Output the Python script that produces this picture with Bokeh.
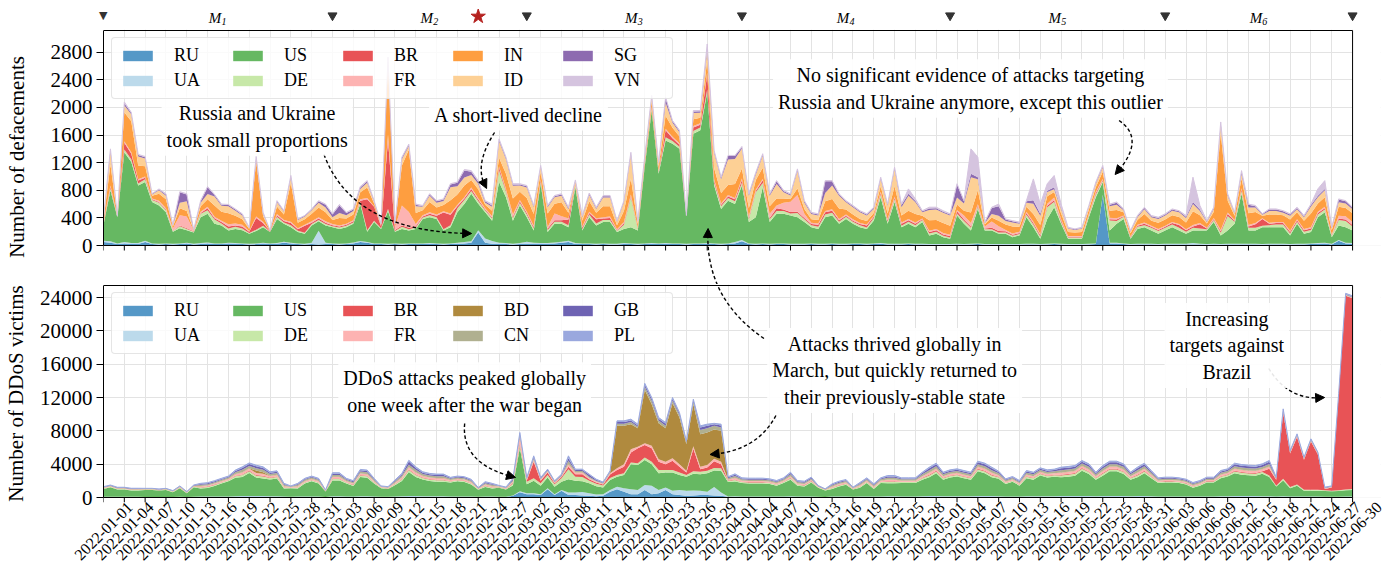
import math
import numpy as np
import pandas as pd
from bokeh.plotting import figure
from bokeh.layouts import column
from bokeh.models import (ColumnDataSource, Range1d, FixedTicker, Legend, LegendItem,
                          Label, Arrow, NormalHead, LinearAxis)
from bokeh.core.properties import value
from bokeh.embed import file_html
from bokeh.resources import INLINE

# ---------------------------------------------------------------- data
dates = pd.date_range("2022-01-01", "2022-06-30", freq="D").strftime("%Y-%m-%d").tolist()
day_idx = list(range(len(dates)))

def_names = ["RU", "UA", "US", "DE", "BR", "FR", "IN", "ID", "SG", "VN"]
def_colors = ["#5598c7", "#bcdaeb", "#66b862", "#c7e8a8", "#e85356",
              "#fdb3b2", "#fe9e40", "#fdd095", "#8d6bb0", "#d5c4df"]

def_ru = [50, 40, 20, 30, 20, 20, 50, 20, 15, 20,
          15, 20, 30, 15, 20, 30, 20, 20, 30, 25,
          20, 15, 20, 30, 20, 25, 40, 30, 20, 15,
          20, 15, 20, 20, 15, 20, 30, 50, 40, 20,
          20, 15, 20, 15, 20, 20, 20, 25, 20, 15,
          20, 25, 30, 40, 190, 40, 25, 20, 20, 15,
          20, 25, 20, 20, 25, 30, 40, 50, 20, 20,
          20, 15, 20, 15, 15, 20, 20, 15, 20, 25,
          20, 25, 20, 20, 15, 20, 20, 25, 20, 15,
          20, 30, 60, 20, 15, 20, 15, 20, 20, 15,
          15, 15, 20, 15, 15, 20, 15, 15, 20, 20,
          15, 20, 25, 15, 15, 15, 20, 15, 15, 10,
          10, 10, 10, 15, 10, 15, 20, 10, 10, 10,
          10, 10, 10, 15, 15, 10, 15, 20, 15, 10,
          10, 10, 15, 20, 725, 30, 30, 20, 10, 15,
          15, 15, 10, 15, 15, 15, 15, 15, 15, 10,
          15, 10, 15, 15, 15, 15, 15, 10, 15, 15,
          15, 10, 15, 15, 20, 25, 30, 15, 70, 30,
          25]
def_ua = [20, 20, 10, 20, 15, 15, 20, 10, 10, 10,
          10, 10, 10, 10, 15, 15, 10, 10, 10, 10,
          10, 10, 10, 10, 10, 10, 15, 10, 10, 10,
          20, 200, 20, 10, 10, 10, 15, 15, 10, 10,
          10, 10, 10, 10, 10, 10, 10, 10, 10, 10,
          10, 15, 20, 20, 30, 60, 40, 20, 15, 10,
          15, 30, 20, 15, 10, 15, 15, 20, 15, 10,
          10, 10, 10, 10, 10, 15, 10, 10, 10, 10,
          10, 10, 10, 10, 10, 10, 10, 10, 10, 10,
          10, 20, 20, 10, 10, 10, 10, 10, 10, 10,
          10, 10, 10, 10, 10, 10, 10, 10, 10, 10,
          10, 10, 10, 10, 10, 10, 10, 10, 10, 10,
          10, 10, 10, 10, 10, 10, 10, 10, 10, 10,
          10, 10, 10, 10, 10, 10, 10, 10, 10, 10,
          10, 10, 10, 10, 10, 10, 10, 10, 10, 10,
          10, 10, 10, 10, 10, 10, 10, 20, 10, 10,
          10, 10, 10, 10, 10, 10, 10, 10, 10, 10,
          10, 10, 10, 10, 10, 10, 10, 10, 10, 10,
          10]
def_us = [230, 740, 380, 1300, 1175, 835, 850, 600, 555, 450,
          175, 220, 180, 165, 375, 415, 285, 260, 177, 205,
          190, 145, 180, 225, 165, 350, 260, 225, 165, 145,
          250, 135, 250, 235, 215, 235, 270, 535, 150, 310,
          210, 475, 170, 215, 187, 210, 355, 375, 355, 192,
          235, 440, 550, 690, 385, 380, 295, 880, 665, 335,
          545, 355, 177, 860, 160, 270, 260, 195, 810, 187,
          380, 265, 310, 315, 170, 205, 235, 192, 1120, 1920,
          1010, 1485, 1445, 1370, 395, 1590, 1640, 2185, 840, 505,
          620, 550, 790, 310, 385, 815, 315, 430, 430, 410,
          385, 315, 235, 215, 385, 405, 290, 360, 285, 235,
          215, 330, 665, 290, 605, 240, 285, 240, 315, 125,
          150, 100, 77, 410, 295, 192, 500, 197, 197, 150,
          150, 100, 125, 385, 240, 77, 360, 525, 290, 77,
          77, 77, 385, 670, 183, 177, 275, 355, 77, 215,
          240, 192, 150, 192, 240, 192, 145, 182, 192, 197,
          315, 125, 192, 290, 725, 192, 192, 245, 240, 240,
          240, 125, 290, 145, 165, 375, 440, 95, 210, 225,
          182]
def_de = [15, 30, 5, 40, 40, 30, 40, 30, 40, 30,
          10, 30, 20, 10, 50, 50, 60, 30, 30, 30,
          25, 10, 20, 20, 5, 30, 20, 30, 20, 15,
          20, 20, 20, 15, 20, 20, 20, 30, 20, 20,
          10, 30, 10, 30, 20, 20, 20, 30, 25, 20,
          30, 60, 60, 40, 40, 30, 30, 170, 80, 40,
          40, 40, 30, 30, 30, 30, 30, 30, 30, 20,
          40, 30, 30, 30, 20, 60, 435, 20, 20, 30,
          20, 50, 40, 30, 5, 40, 40, 40, 40, 40,
          40, 40, 40, 40, 360, 60, 40, 40, 40, 30,
          60, 40, 30, 30, 40, 40, 30, 30, 30, 30,
          20, 40, 40, 30, 40, 20, 30, 30, 30, 30,
          30, 20, 20, 30, 40, 40, 30, 20, 20, 20,
          20, 20, 20, 40, 40, 30, 170, 80, 30, 20,
          20, 20, 30, 40, 20, 145, 40, 30, 15, 30,
          30, 40, 40, 40, 40, 40, 30, 40, 30, 20,
          30, 40, 210, 30, 40, 40, 40, 20, 30, 40,
          40, 30, 30, 30, 30, 40, 40, 20, 80, 90,
          60]
def_br = [10, 20, 0, 100, 80, 40, 20, 10, 10, 10,
          5, 10, 10, 5, 10, 30, 20, 20, 30, 20,
          30, 20, 170, 40, 5, 20, 20, 30, 20, 100,
          20, 20, 20, 15, 15, 15, 15, 20, 450, 200,
          30, 1000, 15, 20, 20, 20, 15, 20, 20, 240,
          150, 30, 20, 30, 20, 15, 15, 40, 20, 20,
          20, 20, 20, 20, 20, 20, 20, 80, 10, 20,
          20, 60, 20, 30, 10, 20, 20, 10, 10, 20,
          10, 100, 40, 30, 0, 50, 40, 220, 30, 20,
          20, 30, 40, 20, 20, 40, 20, 40, 20, 20,
          20, 20, 15, 30, 30, 30, 20, 15, 15, 15,
          30, 15, 20, 20, 20, 30, 20, 20, 10, 20,
          20, 20, 20, 30, 20, 20, 20, 10, 20, 20,
          15, 15, 15, 20, 20, 20, 20, 20, 20, 10,
          10, 10, 10, 20, 10, 20, 20, 10, 10, 15,
          20, 15, 15, 15, 20, 40, 20, 20, 60, 10,
          15, 20, 30, 15, 20, 20, 50, 100, 20, 20,
          20, 20, 20, 20, 20, 20, 20, 10, 20, 20,
          20]
def_fr = [10, 20, 5, 20, 20, 20, 20, 10, 20, 20,
          30, 150, 170, 10, 20, 20, 20, 20, 30, 30,
          25, 10, 20, 20, 5, 20, 15, 20, 15, 15,
          20, 20, 20, 15, 15, 15, 15, 20, 20, 10,
          10, 80, 40, 290, 230, 30, 20, 20, 20, 20,
          20, 20, 20, 20, 20, 15, 20, 20, 20, 30,
          20, 20, 20, 15, 20, 100, 60, 20, 10, 20,
          20, 15, 20, 20, 10, 20, 20, 10, 10, 10,
          10, 20, 20, 20, 0, 20, 20, 30, 20, 20,
          20, 20, 20, 20, 20, 20, 60, 40, 100, 150,
          240, 60, 20, 20, 20, 20, 20, 20, 20, 15,
          15, 15, 20, 20, 20, 20, 20, 20, 10, 20,
          20, 20, 20, 20, 60, 50, 20, 30, 90, 70,
          20, 20, 20, 20, 20, 20, 30, 40, 20, 10,
          10, 10, 10, 20, 20, 20, 20, 10, 10, 15,
          20, 15, 15, 15, 15, 15, 15, 20, 20, 10,
          15, 20, 20, 10, 20, 20, 20, 10, 15, 15,
          15, 20, 15, 20, 20, 20, 20, 10, 40, 50,
          40]
def_in = [35, 300, 10, 420, 450, 200, 150, 40, 100, 130,
          30, 100, 80, 10, 80, 110, 165, 130, 160, 110,
          80, 30, 800, 80, 10, 110, 80, 560, 80, 80,
          110, 140, 130, 60, 110, 75, 85, 100, 150, 40,
          15, 1050, 30, 580, 900, 160, 70, 150, 100, 90,
          190, 150, 170, 110, 130, 50, 80, 120, 220, 230,
          120, 200, 170, 100, 200, 140, 200, 80, 20, 80,
          150, 80, 160, 150, 60, 160, 230, 50, 50, 80,
          60, 190, 130, 100, 5, 100, 80, 170, 160, 150,
          145, 200, 145, 120, 140, 160, 110, 100, 60, 40,
          100, 70, 50, 50, 140, 150, 150, 70, 70, 60,
          50, 40, 80, 80, 150, 100, 120, 120, 40, 150,
          130, 145, 130, 80, 70, 150, 200, 30, 60, 80,
          80, 100, 70, 70, 110, 130, 110, 80, 80, 60,
          50, 60, 60, 65, 100, 100, 120, 45, 45, 70,
          120, 70, 90, 90, 100, 100, 100, 200, 110, 60,
          90, 1400, 170, 60, 140, 170, 160, 35, 120, 110,
          100, 160, 100, 120, 200, 120, 140, 60, 130, 120,
          130]
def_id = [20, 200, 0, 100, 100, 130, 110, 20, 50, 50,
          20, 80, 140, 0, 50, 75, 130, 85, 103, 75,
          55, 10, 40, 35, 0, 60, 40, 80, 40, 40,
          50, 70, 70, 40, 70, 50, 50, 50, 70, 25,
          5, 50, 10, 90, 53, 100, 50, 90, 70, 58,
          190, 120, 115, 70, 80, 30, 55, 240, 210, 185,
          90, 150, 98, 80, 90, 95, 95, 50, 20, 53,
          90, 55, 125, 125, 50, 125, 350, 38, 40, 60,
          40, 190, 75, 60, 5, 90, 75, 150, 225, 200,
          370, 365, 290, 180, 80, 175, 150, 210, 90, 50,
          250, 90, 75, 65, 120, 195, 185, 105, 105, 95,
          80, 60, 105, 110, 250, 120, 215, 170, 50, 150,
          150, 150, 148, 100, 105, 513, 160, 18, 48, 70,
          50, 60, 45, 60, 150, 133, 60, 40, 60, 48,
          38, 48, 40, 50, 62, 68, 75, 30, 25, 40,
          70, 53, 55, 58, 65, 68, 65, 103, 63, 23,
          40, 125, 73, 30, 65, 83, 63, 15, 50, 50,
          35, 55, 45, 50, 100, 90, 100, 30, 65, 65,
          58]
def_sg = [5, 20, 0, 30, 20, 20, 20, 10, 10, 20,
          5, 150, 100, 5, 20, 100, 20, 15, 15, 15,
          15, 5, 20, 10, 0, 15, 10, 20, 10, 10,
          10, 20, 40, 40, 110, 30, 20, 20, 20, 10,
          5, 10, 5, 20, 20, 20, 10, 20, 20, 20,
          40, 50, 100, 50, 30, 20, 20, 20, 20, 20,
          15, 20, 15, 10, 15, 15, 20, 20, 10, 15,
          20, 15, 20, 20, 10, 15, 20, 10, 10, 10,
          10, 70, 20, 20, 0, 20, 20, 40, 20, 20,
          50, 40, 20, 20, 20, 20, 20, 40, 20, 15,
          20, 20, 15, 15, 170, 60, 20, 15, 15, 15,
          15, 15, 15, 15, 15, 30, 30, 20, 15, 20,
          20, 15, 15, 190, 30, 50, 30, 10, 90, 140,
          20, 15, 15, 20, 50, 30, 20, 30, 15, 10,
          10, 10, 10, 15, 15, 20, 30, 15, 10, 15,
          20, 15, 15, 15, 15, 15, 15, 30, 20, 10,
          15, 20, 20, 10, 30, 40, 20, 10, 20, 20,
          20, 20, 20, 15, 20, 20, 20, 10, 40, 30,
          20]
def_vn = [5, 10, 0, 20, 10, 10, 10, 0, 10, 10,
          0, 10, 10, 0, 10, 10, 10, 10, 10, 10,
          10, 5, 10, 10, 0, 10, 5, 10, 5, 5,
          10, 10, 10, 10, 15, 10, 10, 15, 10, 5,
          0, 10, 5, 10, 10, 10, 10, 10, 10, 10,
          10, 10, 15, 15, 15, 10, 20, 15, 10, 10,
          10, 10, 10, 10, 10, 10, 10, 10, 5, 10,
          10, 10, 10, 10, 5, 10, 10, 5, 10, 10,
          10, 10, 10, 10, 0, 15, 10, 50, 10, 10,
          10, 10, 10, 10, 10, 10, 10, 10, 10, 10,
          10, 10, 10, 10, 10, 10, 10, 10, 10, 10,
          10, 10, 10, 10, 10, 15, 70, 30, 10, 20,
          15, 15, 10, 10, 10, 360, 290, 5, 10, 30,
          10, 10, 10, 10, 310, 140, 100, 170, 60, 10,
          5, 10, 10, 10, 15, 10, 10, 5, 5, 10,
          10, 10, 10, 10, 10, 10, 20, 360, 60, 10,
          10, 20, 10, 10, 20, 10, 10, 5, 10, 10,
          10, 10, 10, 10, 15, 100, 120, 5, 10, 10,
          10]

ddos_names = ["RU", "UA", "US", "DE", "BR", "FR", "BD", "CN", "GB", "PL"]
ddos_colors = ["#5598c7", "#bcdaeb", "#66b862", "#c7e8a8", "#e85356",
               "#fdb3b2", "#b08a3e", "#b0b090", "#6e63b3", "#9aa8de"]

ddos_ru = [50, 50, 50, 50, 50, 50, 40, 40, 40, 40,
           40, 50, 40, 50, 80, 80, 80, 80, 80, 100,
           120, 120, 120, 120, 100, 100, 80, 50, 80, 80,
           80, 80, 40, 100, 100, 80, 80, 100, 100, 80,
           50, 50, 80, 100, 120, 120, 100, 100, 100, 100,
           80, 80, 80, 80, 50, 80, 80, 50, 50,
           200, 640, 400, 400, 300, 1000, 300, 800, 300, 300,
           250, 200, 150, 200, 700, 1000, 700, 400, 400, 900,
           400, 500, 900, 400, 300, 200, 250, 300, 300, 250,
           200,
           80, 100, 80, 80, 80, 80, 80, 80, 80, 100,
           80, 80, 80, 50, 40, 80, 80, 80, 50, 80,
           80, 80, 80, 100, 100, 80, 80, 80, 100, 120,
           120, 100, 100, 100, 100, 100, 120, 120, 120, 100,
           80, 80, 80, 100, 100, 100, 100, 100, 120, 120,
           120, 120, 120, 100, 120, 120, 120, 120, 100, 120,
           120, 100, 80, 80, 80, 80, 80, 80, 80, 80,
           80, 100, 100, 120, 120, 120, 120,
           100, 100, 80, 100, 80, 80, 80, 80, 80, 60, 60, 60, 80, 80]
ddos_ua = [30, 30, 30, 30, 30, 30, 20, 20, 20, 20,
           20, 30, 20, 30, 40, 40, 40, 40, 40, 50,
           60, 60, 60, 60, 50, 50, 40, 30, 40, 40,
           40, 40, 20, 50, 50, 40, 40, 50, 50, 40,
           30, 30, 40, 50, 60, 60, 50, 50, 50, 50,
           40, 40, 40, 40, 30, 40, 40, 30, 30,
           50, 100, 100, 100, 100, 100, 100, 100, 300, 300,
           400, 300, 200, 200, 200, 300, 400, 600, 500, 600,
           1000, 400, 300, 400, 600, 600, 600, 500, 400, 1000,
           400,
           40, 50, 40, 40, 40, 40, 40, 40, 40, 50,
           40, 40, 40, 30, 20, 40, 40, 40, 30, 40,
           40, 40, 40, 50, 50, 40, 40, 40, 50, 60,
           60, 50, 50, 50, 50, 50, 60, 60, 60, 50,
           40, 40, 40, 50, 50, 50, 50, 50, 60, 60,
           60, 60, 60, 50, 60, 60, 60, 60, 50, 60,
           60, 50, 40, 40, 40, 40, 40, 40, 40, 40,
           40, 50, 50, 60, 60, 60, 60,
           50, 50, 40, 50, 40, 40, 40, 40, 40, 30, 30, 30, 30, 30]
ddos_us = [940, 1140, 870, 870, 750, 750, 850, 850, 780, 850,
           580, 1030, 460, 1140, 955, 1035, 1275, 1555, 1825, 2220,
           2280, 2750, 2210, 2110, 2020, 2130, 955, 1030, 955, 1555,
           1825, 1555, 660, 1900, 1900, 1555, 1275, 2300, 2220, 1555,
           1030, 940, 1355, 1820, 2890, 2280, 2020, 1820, 1740, 1740,
           1675, 1825, 1755, 1435, 840, 1155, 955, 1090, 890,
           1200, 5200, 1100, 1500, 1000, 1300, 900, 1000, 1600, 1400,
           1300, 1200, 1000, 800, 1200, 1200, 1600, 3000, 3000, 3000,
           2600, 2000, 1800, 2200, 1800, 1700, 2000, 2000, 2200, 2000,
           2600,
           1755, 1770, 1615, 1575, 1575, 1575, 1495, 1295, 1615, 1970,
           1295, 1215, 1695, 1080, 790, 895, 1215, 1415, 880, 1055,
           1615, 895, 1615, 1570, 1570, 1615, 1615, 1615, 1970, 2240,
           2720, 1970, 2250, 2370, 2170, 1970, 2960, 2720, 2240, 2090,
           1495, 1775, 1295, 2170, 1970, 2490, 2250, 2330, 2240, 2320,
           2440, 3040, 2640, 1970, 2440, 2960, 2960, 2640, 1970, 2240,
           2720, 2170, 1615, 1695, 1695, 1615, 1455, 1055, 1295, 1695,
           1695, 2170, 2370, 2720, 2560, 2480, 2440,
           2700, 2300, 1200, 1900, 1000, 1300, 700, 700, 700, 700, 650, 700, 750, 800]
ddos_de = [60, 60, 60, 60, 60, 60, 40, 40, 40, 40,
           40, 60, 40, 60, 120, 120, 120, 120, 120, 180,
           230, 230, 230, 230, 180, 180, 120, 60, 120, 120,
           120, 120, 40, 180, 180, 120, 120, 180, 180, 120,
           60, 60, 120, 180, 230, 230, 180, 180, 180, 180,
           120, 120, 120, 120, 60, 120, 120, 60, 60,
           200, 300, 300, 300, 300, 300, 300, 400, 1200, 500,
           500, 300, 300, 250, 250, 200, 200, 200, 200, 300,
           300, 400, 300, 300, 300, 200, 300, 300, 300, 300,
           300,
           120, 180, 120, 120, 120, 120, 120, 120, 120, 180,
           120, 120, 120, 60, 40, 120, 120, 120, 60, 120,
           120, 120, 120, 180, 180, 120, 120, 120, 180, 230,
           230, 180, 180, 180, 180, 180, 230, 230, 230, 180,
           120, 120, 120, 180, 180, 180, 180, 180, 230, 230,
           230, 230, 230, 180, 230, 230, 230, 230, 180, 230,
           230, 180, 120, 120, 120, 120, 120, 120, 120, 120,
           120, 180, 180, 230, 230, 230, 230,
           200, 200, 100, 200, 150, 150, 100, 100, 100, 80, 80, 80, 100, 100]
ddos_br = [20, 20, 20, 20, 20, 20, 15, 15, 15, 15,
           15, 20, 15, 20, 40, 40, 40, 40, 40, 60,
           80, 80, 80, 80, 60, 60, 40, 20, 40, 40,
           40, 40, 15, 60, 60, 40, 40, 60, 60, 40,
           20, 20, 40, 60, 80, 80, 60, 60, 60, 60,
           40, 40, 40, 40, 20, 40, 40, 20, 20,
           100, 200, 150, 2000, 300, 300, 100, 150, 300, 300,
           350, 200, 150, 100, 400, 600, 800, 1200, 1800, 1500,
           1600, 1000, 700, 1100, 700, 300, 2700, 300, 400, 800,
           500,
           40, 60, 40, 40, 40, 40, 40, 40, 40, 60,
           40, 40, 40, 20, 15, 40, 40, 40, 20, 40,
           40, 40, 40, 60, 60, 40, 40, 40, 60, 80,
           80, 60, 60, 60, 60, 60, 80, 80, 80, 60,
           40, 40, 40, 60, 60, 60, 60, 60, 80, 80,
           80, 80, 80, 60, 80, 80, 80, 80, 60, 80,
           80, 60, 40, 40, 40, 40, 40, 40, 40, 40,
           40, 60, 60, 80, 80, 80, 80,
           100, 800, 700, 7900, 4000, 5700, 3600, 5800, 4250, 150, 380, 11450, 23240, 22890]
ddos_fr = [60, 60, 60, 60, 60, 60, 40, 40, 40, 40,
           40, 60, 40, 60, 120, 120, 120, 120, 120, 180,
           240, 240, 240, 240, 180, 180, 120, 60, 120, 120,
           120, 120, 40, 180, 180, 120, 120, 180, 180, 120,
           60, 60, 120, 180, 240, 240, 180, 180, 180, 180,
           120, 120, 120, 120, 60, 120, 120, 60, 60,
           150, 800, 100, 200, 150, 150, 100, 100, 300, 200,
           200, 150, 120, 100, 150, 200, 300, 400, 200, 200,
           300, 300, 300, 300, 300, 200, 300, 300, 300, 300,
           300,
           120, 180, 120, 120, 120, 120, 120, 120, 120, 180,
           120, 120, 120, 60, 40, 120, 120, 120, 60, 120,
           120, 120, 120, 180, 180, 120, 120, 120, 180, 240,
           240, 180, 180, 180, 180, 180, 240, 240, 240, 180,
           120, 120, 120, 180, 180, 180, 180, 180, 240, 240,
           240, 240, 240, 180, 240, 240, 240, 240, 180, 240,
           240, 180, 120, 120, 120, 120, 120, 120, 120, 120,
           120, 180, 180, 240, 240, 240, 240,
           250, 250, 80, 150, 120, 120, 100, 100, 90, 60, 60, 60, 80, 80]
ddos_bd = [10, 10, 10, 10, 10, 10, 5, 5, 5, 5,
           5, 10, 5, 10, 15, 15, 15, 15, 15, 20,
           30, 30, 300, 200, 20, 20, 15, 10, 15, 15,
           15, 15, 5, 20, 20, 15, 15, 20, 20, 15,
           10, 10, 15, 20, 30, 30, 20, 20, 20, 20,
           15, 15, 15, 15, 10, 15, 15, 10, 10,
           0, 50, 0, 20, 0, 0, 0, 0, 50, 20,
           20, 0, 0, 0, 50, 5100, 4600, 3000, 2200, 6400,
           5000, 4300, 4000, 6600, 5600, 3200, 5050, 3900, 3900, 3500,
           3700,
           15, 20, 15, 15, 15, 15, 15, 15, 15, 20,
           15, 15, 15, 10, 5, 15, 15, 15, 10, 15,
           15, 15, 15, 20, 20, 15, 15, 15, 20, 30,
           30, 20, 20, 20, 20, 20, 30, 30, 30, 20,
           15, 15, 15, 20, 20, 20, 20, 20, 30, 30,
           30, 30, 30, 20, 30, 30, 30, 30, 20, 30,
           30, 20, 15, 15, 15, 15, 15, 15, 15, 15,
           15, 20, 20, 30, 30, 30, 30,
           20, 20, 0, 0, 0, 0, 0, 0, 0, 0, 0, 0, 0, 0]
ddos_cn = [50, 50, 50, 50, 50, 50, 30, 30, 30, 30,
           30, 50, 30, 50, 150, 150, 150, 150, 150, 220,
           280, 280, 280, 280, 220, 220, 150, 50, 150, 150,
           150, 150, 30, 220, 220, 150, 150, 220, 220, 150,
           50, 50, 150, 220, 280, 280, 220, 220, 220, 220,
           150, 150, 150, 150, 50, 150, 150, 50, 50,
           150, 200, 100, 180, 100, 100, 80, 100, 350, 150,
           150, 130, 100, 80, 100, 250, 250, 250, 200, 400,
           400, 350, 300, 350, 300, 200, 300, 500, 500, 450,
           400,
           150, 220, 150, 150, 150, 150, 150, 150, 150, 220,
           150, 150, 150, 50, 30, 150, 150, 150, 50, 150,
           150, 150, 150, 220, 220, 150, 150, 150, 220, 280,
           280, 220, 220, 220, 220, 220, 280, 280, 280, 220,
           150, 150, 150, 220, 220, 220, 220, 220, 280, 280,
           280, 280, 280, 220, 280, 280, 280, 280, 220, 280,
           280, 220, 150, 150, 150, 150, 150, 150, 150, 150,
           150, 220, 220, 280, 280, 280, 280,
           250, 300, 100, 150, 100, 100, 90, 100, 80, 60, 60, 50, 80, 80]
ddos_gb = [40, 40, 40, 40, 40, 40, 30, 30, 30, 30,
           30, 40, 30, 40, 100, 100, 100, 100, 100, 150,
           220, 220, 220, 220, 150, 150, 100, 40, 100, 100,
           100, 100, 30, 150, 150, 100, 100, 150, 150, 100,
           40, 40, 100, 150, 400, 220, 150, 150, 150, 150,
           100, 100, 100, 100, 40, 100, 100, 40, 40,
           150, 150, 80, 150, 80, 80, 60, 80, 300, 130,
           130, 250, 120, 70, 80, 200, 200, 200, 150, 250,
           250, 200, 250, 200, 200, 100, 200, 300, 300, 200,
           250,
           100, 150, 100, 100, 100, 100, 100, 100, 100, 150,
           100, 100, 100, 40, 30, 100, 100, 100, 40, 100,
           100, 100, 100, 150, 150, 100, 100, 100, 150, 220,
           220, 150, 150, 150, 150, 150, 220, 220, 220, 150,
           100, 100, 100, 150, 150, 150, 150, 150, 220, 220,
           220, 220, 220, 150, 220, 220, 220, 220, 150, 220,
           220, 150, 100, 100, 100, 100, 100, 100, 100, 100,
           100, 150, 150, 220, 220, 220, 220,
           220, 270, 80, 100, 80, 80, 70, 70, 60, 50, 40, 40, 70, 70]
ddos_pl = [40, 40, 40, 40, 40, 40, 30, 30, 30, 30,
           30, 40, 30, 40, 80, 80, 80, 80, 80, 110,
           140, 140, 140, 140, 110, 110, 80, 40, 80, 80,
           80, 80, 30, 110, 110, 80, 80, 110, 110, 80,
           40, 40, 80, 110, 140, 140, 110, 110, 110, 110,
           80, 80, 80, 80, 40, 80, 80, 40, 40,
           100, 160, 70, 150, 70, 70, 60, 70, 300, 100,
           100, 70, 60, 50, 70, 150, 150, 150, 150, 150,
           150, 150, 150, 150, 100, 100, 100, 200, 200, 100,
           150,
           80, 110, 80, 80, 80, 80, 80, 80, 80, 110,
           80, 80, 80, 40, 30, 80, 80, 80, 40, 80,
           80, 80, 80, 110, 110, 80, 80, 80, 110, 140,
           140, 110, 110, 110, 110, 110, 140, 140, 140, 110,
           80, 80, 80, 110, 110, 110, 110, 110, 140, 140,
           140, 140, 140, 110, 140, 140, 140, 140, 110, 140,
           140, 110, 80, 80, 80, 80, 80, 80, 80, 80,
           80, 110, 110, 140, 140, 140, 140,
           150, 150, 60, 90, 70, 70, 60, 50, 40, 50, 40, 30, 70, 70]

def_series = [def_ru, def_ua, def_us, def_de, def_br, def_fr, def_in, def_id, def_sg, def_vn]
ddos_series = [ddos_ru, ddos_ua, ddos_us, ddos_de, ddos_br, ddos_fr, ddos_bd, ddos_cn, ddos_gb, ddos_pl]
for nm, arr in list(zip(["def_" + n for n in def_names], def_series)) + \
        list(zip(["ddos_" + n for n in ddos_names], ddos_series)):
    if len(arr) != len(dates):
        raise ValueError("length mismatch %s %d" % (nm, len(arr)))

month_marks = [0, 33, 61, 92, 122, 153, 180]
month_labels = ["1", "2", "3", "4", "5", "6"]
war_day = 54
top_yticks = [0, 400, 800, 1200, 1600, 2000, 2400, 2800]
bot_yticks = [0, 4000, 8000, 12000, 16000, 20000, 24000]
tick_days = day_idx[::3]
tick_texts = dates[::3]

# ---------------------------------------------------------------- geometry (screen px)
FONT = "Liberation Serif"
W = 1390
LEFT, RIGHT = 100, 10                 # frames run to x=1380 so the last date labels fit
PX_DAY = (1352 - 100) / 180.0         # chart boxes span x = 100 .. 1352
XMAX = (W - RIGHT - LEFT) / PX_DAY    # data x at the frame's right edge
TOP_YMAX, BOT_YMAX = 3115, 25440
K_TOP = TOP_YMAX / 215.0              # data units per px
K_BOT = BOT_YMAX / 212.0
HDR_H = 28                            # header   Y 0..28
TOP_H = 1 + 255                       # top fig  Y 28..284, frame 29..284 (chart box 30..245)
BOT_H = 218 + 73                      # bottom   Y 284..575, frame 284..502 (chart box 285..497)
LABEL_SHIFT = 3.8                     # days: centres the rotated date labels on their ticks
TICK_PX = 5
GRID = "#e3e3e3"

x_range = Range1d(0, XMAX)


def style_yaxis(ax, label, standoff, yticks, ymax):
    ax.ticker = FixedTicker(ticks=yticks)
    ax.bounds = (0, ymax)
    ax.major_tick_out = 7
    ax.major_tick_in = 0
    ax.minor_tick_line_color = None
    ax.major_label_standoff = 4
    ax.major_label_text_font = FONT
    ax.major_label_text_font_size = "21px"
    ax.major_label_text_color = "black"
    ax.axis_line_color = "black"
    ax.axis_label = label
    ax.axis_label_text_font = FONT
    ax.axis_label_text_font_size = "21px"
    ax.axis_label_text_font_style = "normal"
    ax.axis_label_text_color = "black"
    ax.axis_label_standoff = standoff


# ---------------------------------------------------------------- header: month marks, labels, war start
hdr = figure(width=W, height=HDR_H, x_range=x_range, y_range=Range1d(0, HDR_H),
             output_backend="svg", toolbar_location=None, x_axis_location=None, y_axis_location=None,
             min_border_left=LEFT, min_border_right=RIGHT, min_border_top=0, min_border_bottom=0)
hdr.grid.visible = False
hdr.outline_line_color = None
hdr.background_fill_color = None
hdr.border_fill_color = None
first_mark = LinearAxis(ticker=FixedTicker(ticks=[HDR_H - 15]),
                        major_label_overrides={HDR_H - 15: "\u25BC"},
                        major_tick_line_color=None, minor_tick_line_color=None, axis_line_color=None,
                        major_tick_out=0, major_tick_in=0, major_label_standoff=-4,
                        major_label_text_font="DejaVu Sans", major_label_text_font_size="11px",
                        major_label_text_color="#333333")
hdr.add_layout(first_mark, "left")
hdr.scatter(x=month_marks[1:], y=[HDR_H - 15] * (len(month_marks) - 1), marker="inverted_triangle",
            size=9, color="#333333")
hdr.scatter(x=[war_day], y=[HDR_H - 16], marker="star", size=15, color="#b5221f")
mids = [(month_marks[k] + month_marks[k + 1]) / 2.0 for k in range(6)]
hdr.text(x=[m - 3 / PX_DAY for m in mids], y=[HDR_H - 17.5] * 6, text=["M"] * 6,
         text_align="center", text_baseline="middle", text_font=value(FONT),
         text_font_style="italic", text_font_size="15px", text_color="black")
hdr.text(x=[m + 6 / PX_DAY for m in mids], y=[HDR_H - 21] * 6, text=month_labels,
         text_align="center", text_baseline="middle", text_font=value(FONT),
         text_font_style="italic", text_font_size="10px", text_color="black")

# ---------------------------------------------------------------- top chart (frame reaches into the gap)
top = figure(width=W, height=TOP_H, x_range=x_range,
             y_range=Range1d((245 - 284) * K_TOP, (245 - 29) * K_TOP),
             output_backend="svg", toolbar_location=None, x_axis_location=None,
             min_border_left=LEFT, min_border_right=RIGHT, min_border_top=1, min_border_bottom=0)
top.outline_line_color = None
top.background_fill_color = "white"
top.border_fill_color = "white"
style_yaxis(top.yaxis[0], "Number of defacements", 19, top_yticks, TOP_YMAX)
top.xgrid.ticker = FixedTicker(ticks=tick_days)
top.ygrid.ticker = FixedTicker(ticks=top_yticks)
top.xgrid.grid_line_color = GRID
top.ygrid.grid_line_color = GRID

# ---------------------------------------------------------------- bottom chart (frame reaches below the box for ticks)
bot = figure(width=W, height=BOT_H, x_range=x_range, y_range=Range1d(-5 * K_BOT, 213 * K_BOT),
             output_backend="svg", toolbar_location=None, x_axis_location=None,
             min_border_left=LEFT, min_border_right=RIGHT, min_border_top=0, min_border_bottom=73)
bot.outline_line_color = None
bot.background_fill_color = "white"
bot.border_fill_color = "white"
style_yaxis(bot.yaxis[0], "Number of DDoS victims", 9, bot_yticks, BOT_YMAX)
bot.xgrid.ticker = FixedTicker(ticks=tick_days)
bot.ygrid.ticker = FixedTicker(ticks=bot_yticks)
bot.xgrid.grid_line_color = GRID
bot.ygrid.grid_line_color = GRID
# date labels: axis on a copy of the date range shifted so each rotated label is centred on its tick
bot.extra_x_ranges = {"lbl": Range1d(-LABEL_SHIFT, XMAX - LABEL_SHIFT)}
lbl_axis = LinearAxis(x_range_name="lbl", ticker=FixedTicker(ticks=tick_days),
                      major_label_overrides={d: t for d, t in zip(tick_days, tick_texts)},
                      major_label_orientation=math.pi / 4,
                      major_tick_line_color=None, minor_tick_line_color=None, axis_line_color=None,
                      major_tick_out=0, major_tick_in=0, major_label_standoff=2,
                      major_label_text_font=FONT, major_label_text_font_size="16px",
                      major_label_text_color="black")
bot.add_layout(lbl_axis, "below")

# ---------------------------------------------------------------- stacked areas
def_src = ColumnDataSource(dict(x=day_idx, **{n: s for n, s in zip(def_names, def_series)}))
ddos_src = ColumnDataSource(dict(x=day_idx, **{n: s for n, s in zip(ddos_names, ddos_series)}))
def_rs = top.varea_stack(stackers=def_names, x="x", color=def_colors, source=def_src)
ddos_rs = bot.varea_stack(stackers=ddos_names, x="x", color=ddos_colors, source=ddos_src)

def_total = [sum(v) for v in zip(*def_series)]
ddos_total = [sum(v) for v in zip(*ddos_series)]
top.line(day_idx, def_total, line_color=def_colors[-1], line_width=1)
bot.line(day_idx, ddos_total, line_color=ddos_colors[-1], line_width=1)

# blank the grid outside the chart boxes, then draw box edges and x ticks
ylo, yhi = (245 - 284) * K_TOP, (245 - 29) * K_TOP
top.quad(left=[0, 0, 180], right=[XMAX, XMAX, XMAX], bottom=[ylo, TOP_YMAX, 0],
         top=[0, yhi, TOP_YMAX], color="white", line_color=None)
top.segment(x0=[0, 0, 180], y0=[0, TOP_YMAX, 0], x1=[180, 180, 180], y1=[0, TOP_YMAX, TOP_YMAX],
            line_color="black", line_width=1)
top.segment(x0=tick_days, y0=[0] * len(tick_days), x1=tick_days,
            y1=[-TICK_PX * K_TOP] * len(tick_days), line_color="black", line_width=1)
bylo, byhi = -5 * K_BOT, 213 * K_BOT
bot.quad(left=[0, 180], right=[XMAX, XMAX], bottom=[bylo, 0], top=[0, byhi],
         color="white", line_color=None)
bot.segment(x0=[0, 0, 180], y0=[0, BOT_YMAX, 0], x1=[180, 180, 180], y1=[0, BOT_YMAX, BOT_YMAX],
            line_color="black", line_width=1)
bot.segment(x0=tick_days, y0=[0] * len(tick_days), x1=tick_days,
            y1=[-TICK_PX * K_BOT] * len(tick_days), line_color="black", line_width=1)


def add_legend(p, names, rs):
    order = [0, 2, 4, 6, 8, 1, 3, 5, 7, 9]
    items = [LegendItem(label=names[i], renderers=[rs[i]]) for i in order]
    lg = Legend(items=items, location="top_left", orientation="horizontal", ncols=5)
    lg.margin = 8
    lg.padding = 7
    lg.spacing = 4
    lg.glyph_width = 37
    lg.glyph_height = 13
    lg.label_standoff = 18
    lg.label_width = 51
    lg.label_height = 20
    lg.label_text_font = FONT
    lg.label_text_font_size = "18px"
    lg.label_text_color = "black"
    lg.border_line_color = "#cccccc"
    lg.border_line_width = 1
    lg.background_fill_color = "white"
    lg.background_fill_alpha = 0.8
    try:
        lg.border_radius = 4
    except Exception:
        pass
    p.add_layout(lg)


add_legend(top, def_names, def_rs)
add_legend(bot, ddos_names, ddos_rs)


# ---------------------------------------------------------------- screen px -> data per panel
def to_top(X, Y):
    return (X - 100) / PX_DAY, (245 - Y) * K_TOP


def to_bot(X, Y):
    return (X - 100) / PX_DAY, (497 - Y) * K_BOT


figs = {"top": (top, to_top), "bot": (bot, to_bot)}


def panel(Y):
    return "top" if Y < 284 else "bot"


# ---------------------------------------------------------------- annotation boxes
def note(fig, conv, X, Y, txt):
    x, y = conv(X, Y)
    lb = Label(x=x, y=y, text=txt, text_align="center", text_baseline="middle",
               text_font=FONT, text_font_size="20px", text_color="black",
               text_line_height=1.2,
               background_fill_color="white", background_fill_alpha=0.9)
    try:
        lb.padding = 5
    except Exception:
        pass
    fig.add_layout(lb)


note(top, to_top, 254, 126, "Russia and Ukraine\ntook small proportions")
note(top, to_top, 516, 114, "A short-lived decline")
note(top, to_top, 969, 88, "No significant evidence of attacks targeting\n"
                           "Russia and Ukraine anymore, except this outlier")
note(bot, to_bot, 462, 391, "DDoS attacks peaked globally\none week after the war began")
note(bot, to_bot, 893, 370, "Attacks thrived globally in\nMarch, but quickly returned to\n"
                            "their previously-stable state")
note(bot, to_bot, 1226, 345, "Increasing\ntargets against\nBrazil")

# ---------------------------------------------------------------- dashed curved arrows
dash_store = {k: dict(x0=[], y0=[], x1=[], y1=[]) for k in figs}


def dashed_arrow(s, c, e, dl=3.5, gl=2.5):
    t = np.linspace(0, 1, 400)
    xs = (1 - t) ** 2 * s[0] + 2 * (1 - t) * t * c[0] + t ** 2 * e[0]
    ys = (1 - t) ** 2 * s[1] + 2 * (1 - t) * t * c[1] + t ** 2 * e[1]
    L = np.concatenate([[0.0], np.cumsum(np.hypot(np.diff(xs), np.diff(ys)))])
    total = L[-1]
    stop = total - 6
    pos = 0.0
    while pos < stop:
        a, b = pos, min(pos + dl, stop)
        xa, ya = np.interp(a, L, xs), np.interp(a, L, ys)
        xb, yb = np.interp(b, L, xs), np.interp(b, L, ys)
        key = panel((ya + yb) / 2)
        conv = figs[key][1]
        x0, y0 = conv(xa, ya)
        x1, y1 = conv(xb, yb)
        d = dash_store[key]
        d["x0"].append(x0); d["y0"].append(y0); d["x1"].append(x1); d["y1"].append(y1)
        pos += dl + gl
    xh, yh = np.interp(total - 9, L, xs), np.interp(total - 9, L, ys)
    fig, conv = figs[panel(e[1])]
    x0, y0 = conv(xh, yh)
    x1, y1 = conv(e[0], e[1])
    fig.add_layout(Arrow(end=NormalHead(size=9, fill_color="black", line_color="black", line_width=1),
                         x_start=x0, y_start=y0, x_end=x1, y_end=y1, line_alpha=0))


dashed_arrow((321, 154), (350, 232), (469, 233))
dashed_arrow((492, 132), (470, 166), (484, 188))
dashed_arrow((1118, 120), (1146, 139), (1114, 174))
dashed_arrow((462, 423), (458, 464), (513, 477))
dashed_arrow((762, 338), (702, 297), (706, 228))
dashed_arrow((774, 415), (755, 451), (708, 454))
dashed_arrow((1268, 368), (1288, 401), (1324, 397))

for key, (fig, _) in figs.items():
    d = dash_store[key]
    if d["x0"]:
        fig.segment(x0=d["x0"], y0=d["y0"], x1=d["x1"], y1=d["y1"],
                    line_color="black", line_width=1.4)

layout = column(hdr, top, bot, spacing=0)
open("out.html", "w").write(file_html(layout, INLINE))
